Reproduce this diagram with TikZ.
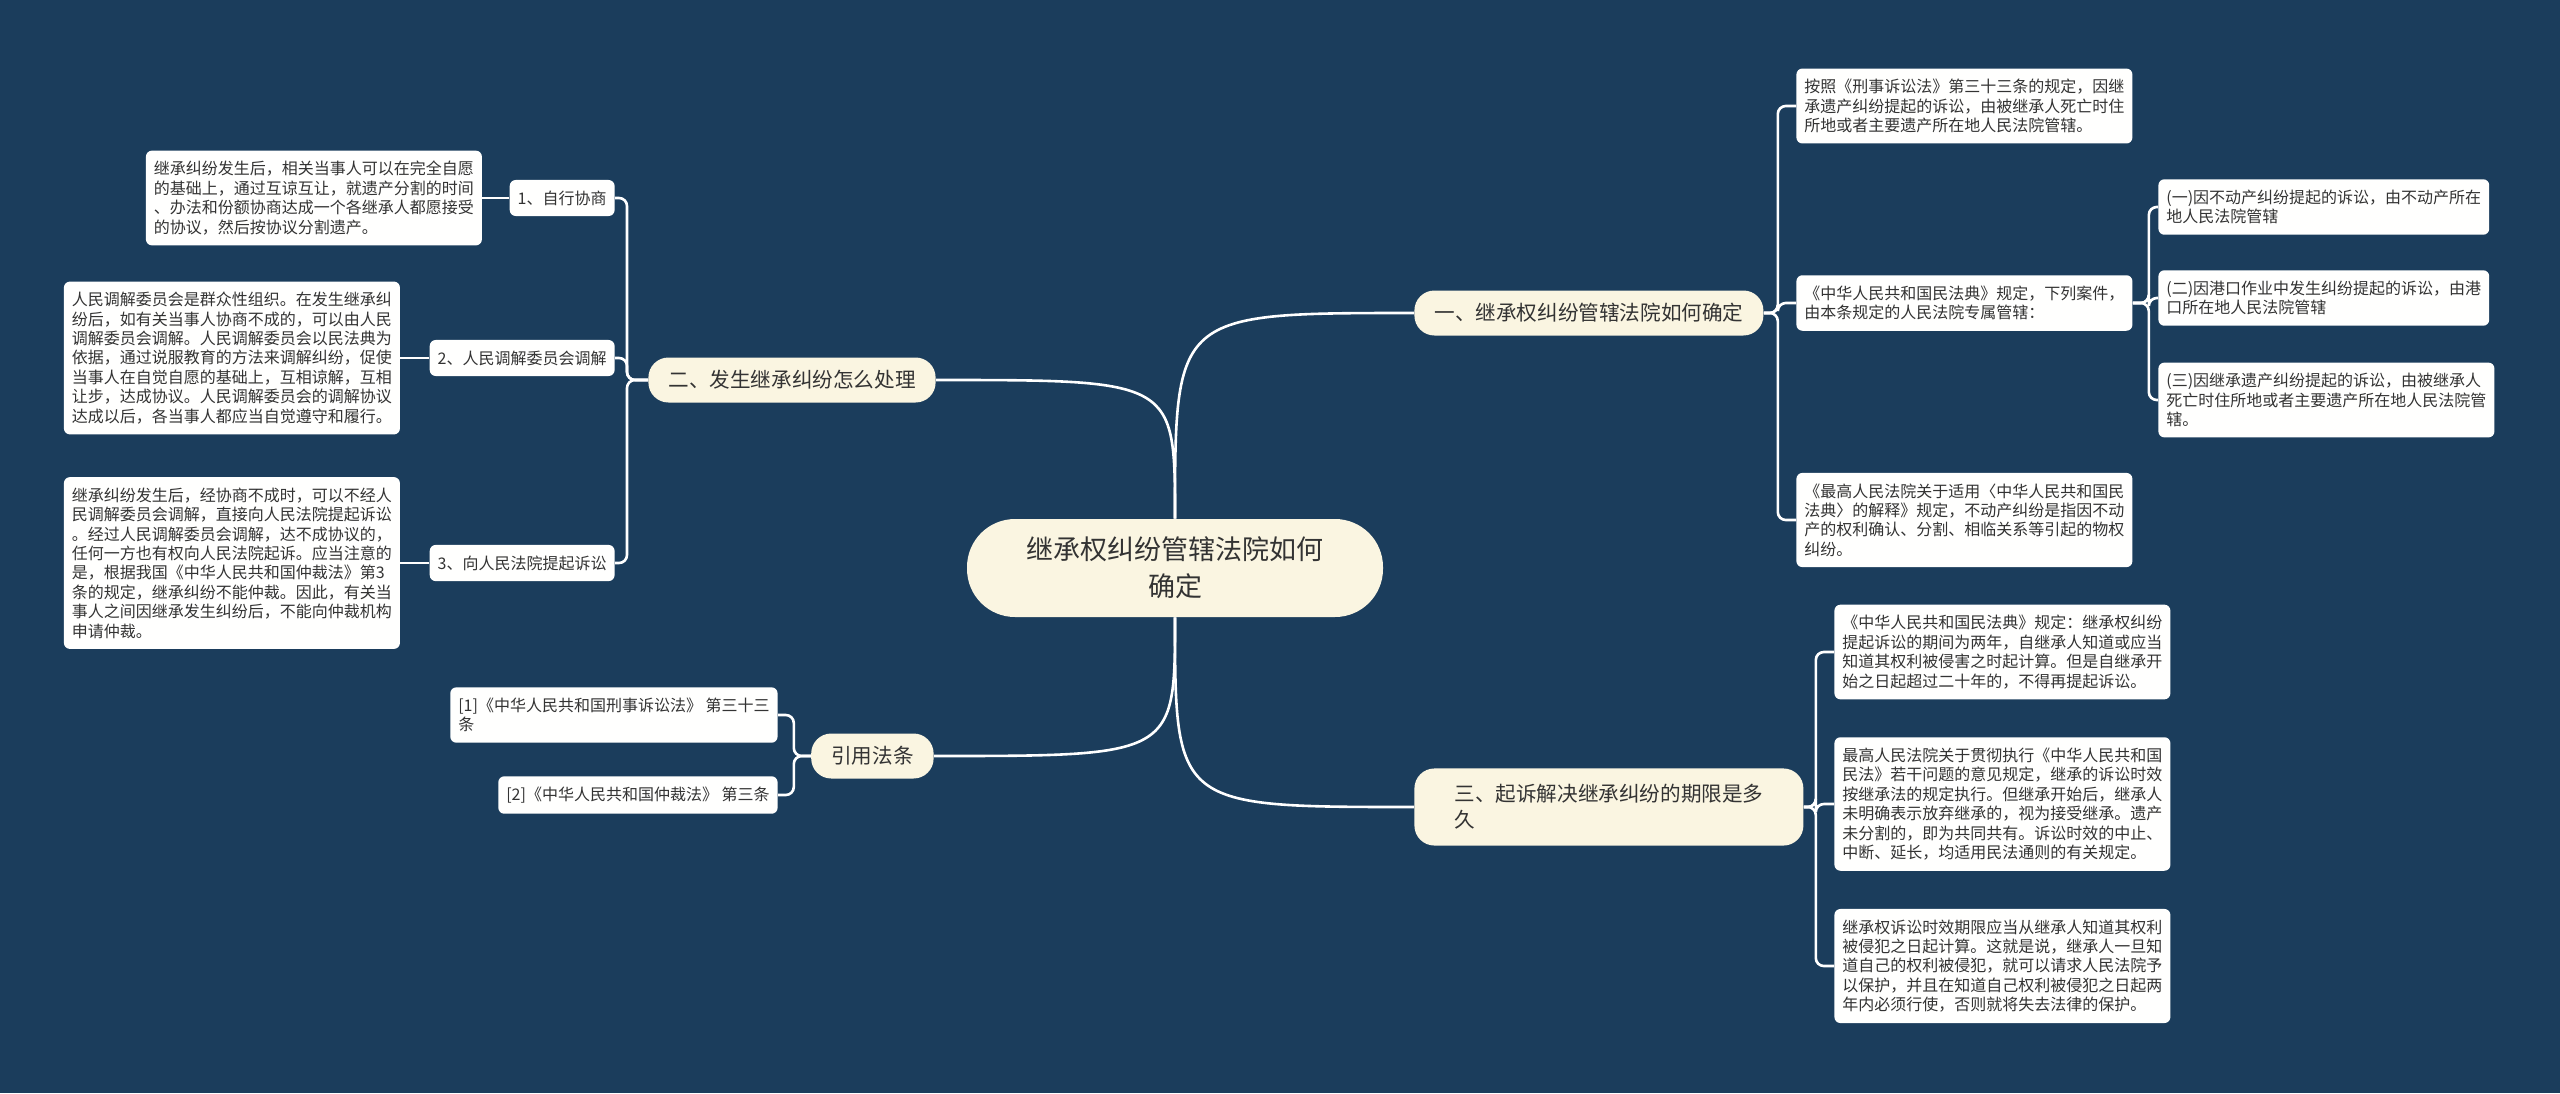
\documentclass[tikz,border=0pt]{standalone}
\usepackage{fontspec}
\setmainfont{Noto Sans CJK SC}
\usetikzlibrary{positioning}
\definecolor{bgblue}{HTML}{1B3D5C}
\definecolor{cream}{HTML}{FAF5E1}
\definecolor{paper}{HTML}{FFFFFE}
\definecolor{ink}{HTML}{333333}
\tikzset{
  root/.style={fill=cream, rounded corners=24pt, minimum width=208pt, minimum height=49pt, align=center, text=ink, font=\fontsize{13.5}{18.5}\selectfont},
  branch/.style={fill=cream, rounded corners=10pt, inner xsep=10pt, minimum height=22.5pt, align=left, text=ink, font=\fontsize{10.3}{13}\selectfont},
  leaf/.style={fill=paper, rounded corners=3pt, inner xsep=4pt, inner ysep=5.3pt, align=left, text=ink, font=\fontsize{8}{9.7}\selectfont},
  link/.style={draw=white, line width=1.3pt},
  fork/.style={link, rounded corners=4pt},
}

\begin{document}
\begin{tikzpicture}[x=0.5pt, y=-0.5pt]
  % Background
  \fill[bgblue] (0,0) rectangle (2560,1093);

  % Centre and main branches
  \node[root] (cn) at (1175,568) {继承权纠纷管辖法院如何\\确定};
  \node[branch, anchor=west] (b1) at (1414,313) {一、继承权纠纷管辖法院如何确定};
  \node[branch, anchor=east] (b2) at (936,380) {二、发生继承纠纷怎么处理};
  \node[branch, anchor=west, inner xsep=20pt, inner ysep=8pt] (b3) at (1414,807) {三、起诉解决继承纠纷的期限是多\\久};
  \node[branch, anchor=east] (b4) at (934,756) {引用法条};

  \draw[link] (cn) .. controls (1175,313) .. (b1.west);
  \draw[link] (cn) .. controls (1175,380) .. (b2.east);
  \draw[link] (cn) .. controls (1175,807) .. (b3.west);
  \draw[link] (cn) .. controls (1175,756) .. (b4.east);

  % Branch 2: how to handle
  \node[leaf, anchor=east] (n1) at (615,198) {1、自行协商};
  \node[leaf, anchor=east] (n2) at (615,358) {2、人民调解委员会调解};
  \node[leaf, anchor=east] (n3) at (615,563) {3、向人民法院提起诉讼};
  \node[leaf, left=13.5pt of n1] (d1) {继承纠纷发生后，相关当事人可以在完全自愿\\的基础上，通过互谅互让，就遗产分割的时间\\、办法和份额协商达成一个各继承人都愿接受\\的协议，然后按协议分割遗产。};
  \node[leaf, left=14.5pt of n2] (d2) {人民调解委员会是群众性组织。在发生继承纠\\纷后，如有关当事人协商不成的，可以由人民\\调解委员会调解。人民调解委员会以民法典为\\依据，通过说服教育的方法来调解纠纷，促使\\当事人在自觉自愿的基础上，互相谅解，互相\\让步，达成协议。人民调解委员会的调解协议\\达成以后，各当事人都应当自觉遵守和履行。};
  \node[leaf, left=14.5pt of n3] (d3) {继承纠纷发生后，经协商不成时，可以不经人\\民调解委员会调解，直接向人民法院提起诉讼\\。经过人民调解委员会调解，达不成协议的，\\任何一方也有权向人民法院起诉。应当注意的\\是，根据我国《中华人民共和国仲裁法》第3\\条的规定，继承纠纷不能仲裁。因此，有关当\\事人之间因继承发生纠纷后，不能向仲裁机构\\申请仲裁。};

  \foreach \n in {n1,n2,n3}
    \draw[fork] (b2.west) -- ++(-21,0) |- (\n.east);
  \draw[link] (n1) -- (d1);
  \draw[link] (n2) -- (d2);
  \draw[link] (n3) -- (d3);

  % Branch 4: cited laws
  \node[leaf, anchor=east] (r1) at (778,715) {[1]《中华人民共和国刑事诉讼法》 第三十三\\条};
  \node[leaf, anchor=east] (r2) at (778,795) {[2]《中华人民共和国仲裁法》 第三条};
  \foreach \n in {r1,r2}
    \draw[fork] (b4.west) -- ++(-17,0) |- (\n.east);

  % Branch 1: jurisdiction
  \node[leaf, anchor=west] (a1) at (1796,106) {按照《刑事诉讼法》第三十三条的规定，因继\\承遗产纠纷提起的诉讼，由被继承人死亡时住\\所地或者主要遗产所在地人民法院管辖。};
  \node[leaf, anchor=west] (a2) at (1796,303) {《中华人民共和国民法典》规定，下列案件，\\由本条规定的人民法院专属管辖：};
  \node[leaf, anchor=west] (a3) at (1796,520) {《最高人民法院关于适用〈中华人民共和国民\\法典〉的解释》规定，不动产纠纷是指因不动\\产的权利确认、分割、相临关系等引起的物权\\纠纷。};
  \foreach \n in {a1,a2,a3}
    \draw[fork] (b1.east) -- ++(14,0) |- (\n.west);

  \node[leaf, anchor=west] (s1) at (2158,207) {(一)因不动产纠纷提起的诉讼，由不动产所在\\地人民法院管辖};
  \node[leaf, anchor=west] (s2) at (2158,298) {(二)因港口作业中发生纠纷提起的诉讼，由港\\口所在地人民法院管辖};
  \node[leaf, anchor=west] (s3) at (2158,400) {(三)因继承遗产纠纷提起的诉讼，由被继承人\\死亡时住所地或者主要遗产所在地人民法院管\\辖。};
  \foreach \n in {s1,s2,s3}
    \draw[fork] (a2.east) -- ++(16,0) |- (\n.west);

  % Branch 3: time limit
  \node[leaf, anchor=west] (c1) at (1834,652) {《中华人民共和国民法典》规定：继承权纠纷\\提起诉讼的期间为两年，自继承人知道或应当\\知道其权利被侵害之时起计算。但是自继承开\\始之日起超过二十年的，不得再提起诉讼。};
  \node[leaf, anchor=west] (c2) at (1834,804) {最高人民法院关于贯彻执行《中华人民共和国\\民法》若干问题的意见规定，继承的诉讼时效\\按继承法的规定执行。但继承开始后，继承人\\未明确表示放弃继承的，视为接受继承。遗产\\未分割的，即为共同共有。诉讼时效的中止、\\中断、延长，均适用民法通则的有关规定。};
  \node[leaf, anchor=west] (c3) at (1834,966) {继承权诉讼时效期限应当从继承人知道其权利\\被侵犯之日起计算。这就是说，继承人一旦知\\道自己的权利被侵犯，就可以请求人民法院予\\以保护，并且在知道自己权利被侵犯之日起两\\年内必须行使，否则就将失去法律的保护。};
  \foreach \n in {c1,c2,c3}
    \draw[fork] (b3.east) -- ++(12,0) |- (\n.west);
\end{tikzpicture}
\end{document}
